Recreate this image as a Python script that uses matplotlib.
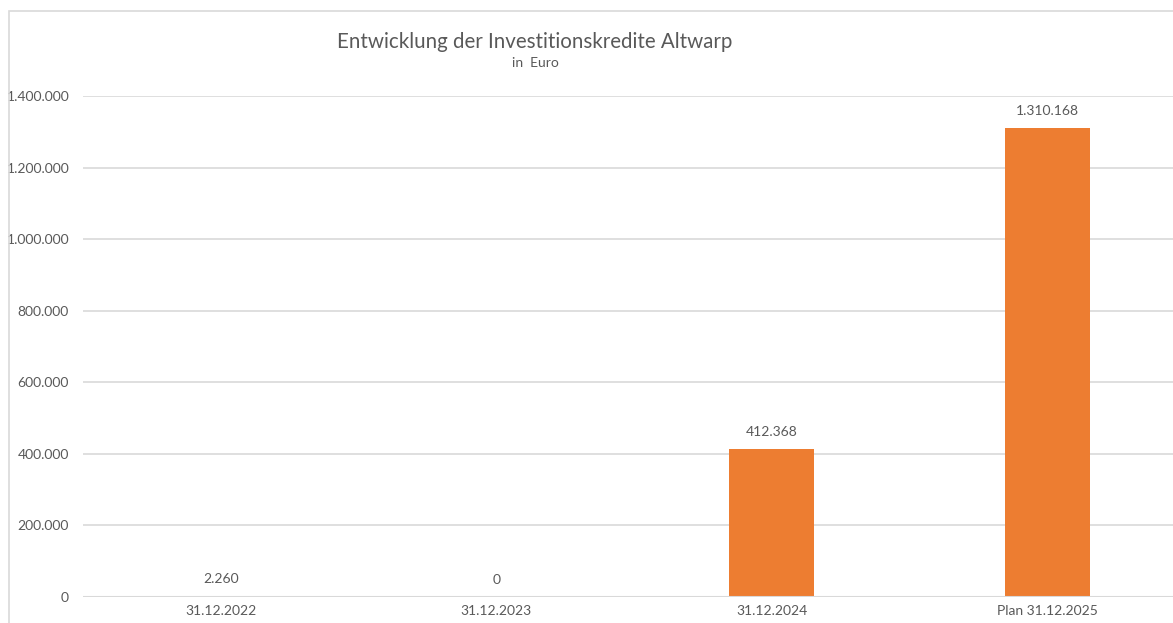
import numpy as np
import matplotlib.pyplot as plt
from matplotlib.patches import Rectangle

kategorien = ["31.12.2022", "31.12.2023", "31.12.2024", "Plan 31.12.2025"]
werte = [2260, 0, 412368, 1310168]
y_ticks = [0, 200000, 400000, 600000, 800000, 1000000, 1200000, 1400000]

def fmt(v):
    return f"{v:,.0f}".replace(",", ".")

plt.rcParams['font.family'] = ['Lato', 'DejaVu Sans']
grau = '#595959'

fig = plt.figure(figsize=(11.73, 6.23), dpi=100)
# Rahmen des Diagrammbereichs (rechts/unten abgeschnitten)
fig.patches.append(Rectangle((9/1173, -0.1), 1.2, (623-11)/623 + 0.1,
                             transform=fig.transFigure, fill=False,
                             edgecolor='#d9d9d9', linewidth=1.2))

ax = fig.add_axes([83/1173, 26/623, 1102/1173, 501/623])
x = np.arange(len(kategorien))
ax.bar(x, werte, width=0.31, color='#ED7D31', zorder=3)
ax.axhline(0, color='#d9d9d9', linewidth=1.5, zorder=4)
for xi, v in zip(x, werte):
    ax.annotate(fmt(v), (xi, v), xytext=(0, 8), textcoords='offset points',
                ha='center', va='bottom', fontsize=10, color=grau)

ax.set_xlim(-0.5, len(kategorien) - 0.5)
ax.set_ylim(0, 1400000)
ax.set_yticks(y_ticks)
ax.set_yticklabels([fmt(t) for t in y_ticks])
ax.set_xticks(x)
ax.set_xticklabels(kategorien)
ax.tick_params(axis='both', length=0, labelsize=10, labelcolor=grau)
ax.tick_params(axis='y', pad=10)
ax.tick_params(axis='x', pad=6)
ax.grid(axis='y', color='#d9d9d9', linewidth=1.2, zorder=0)
for s in ax.spines.values():
    s.set_visible(False)

fig.text(535/1173, 1 - 42/623, "Entwicklung der Investitionskredite Altwarp",
         ha='center', va='center', fontsize=14.8, color=grau)
fig.text(535/1173, 1 - 63/623, "in  Euro", ha='center', va='center',
         fontsize=10, color=grau)

fig.savefig("out.png", dpi=100)
